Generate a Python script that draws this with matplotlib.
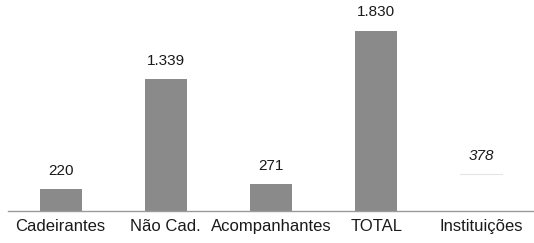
import matplotlib
matplotlib.use("Agg")
import matplotlib.pyplot as plt

categories = ["Cadeirantes", "Não Cad.", "Acompanhantes", "TOTAL", "Instituições"]
values = [220, 1339, 271, 1830, 378]
value_labels = ["220", "1.339", "271", "1.830", "378"]

plt.rcParams['font.family'] = ['Liberation Sans', 'DejaVu Sans']

fig = plt.figure(figsize=(5.34, 2.43), dpi=100)
ax = fig.add_axes([8/534, 32/243, 526/534, 211/243])

x = list(range(len(categories)))
colors = ['#8a8a8a'] * 4 + ['#ffffff']
bars = ax.bar(x, values, width=0.4, color=colors, edgecolor='none', zorder=2)
# faint top edge of the last (almost invisible) bar
b = bars[-1]
ax.plot([b.get_x(), b.get_x() + b.get_width()], [b.get_height()] * 2,
        color='#e4e4e4', lw=0.8, zorder=3)

for i, (v, lab) in enumerate(zip(values, value_labels)):
    ax.annotate(lab, (i, v), xytext=(0, 8), textcoords='offset points',
                ha='center', va='bottom', fontsize=11, color='#1a1a1a',
                style='italic' if i == 4 else 'normal')

ax.set_xlim(-0.5, 4.5)
ax.set_ylim(0, 2140)
for s in ['top', 'right', 'left']:
    ax.spines[s].set_visible(False)
ax.spines['bottom'].set_color('#9a9a9a')
ax.spines['bottom'].set_linewidth(1.0)
ax.set_yticks([])
ax.set_xticks(x)
ax.set_xticklabels(categories, fontsize=12, color='#1a1a1a')
ax.tick_params(axis='x', length=0, pad=6)

fig.savefig("out.png", dpi=100)
